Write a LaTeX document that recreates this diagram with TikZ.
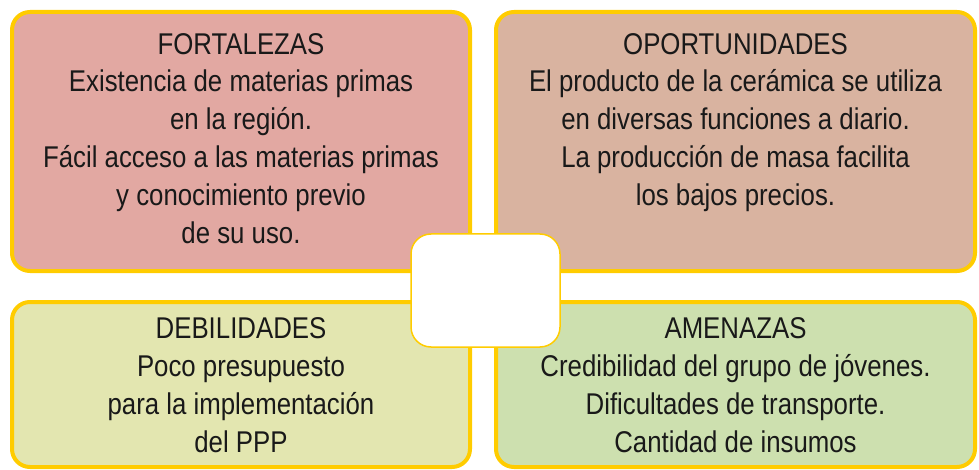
\documentclass[tikz,border=0pt]{standalone}
\usepackage{fontspec}
\setmainfont{Liberation Sans}[FakeStretch=0.86]
\usetikzlibrary{positioning}
\definecolor{fodaBorde}{HTML}{FFCC00}
\definecolor{fortFill}{HTML}{E2A8A2}
\definecolor{oporFill}{HTML}{D9B3A0}
\definecolor{debiFill}{HTML}{E3E6B0}
\definecolor{amenFill}{HTML}{CDE0AF}

\begin{document}
\begin{tikzpicture}[x=1pt, y=-1pt,
  cuadro/.style = {draw=fodaBorde, line width=4pt, rounded corners=18pt,
                   inner sep=0pt},
  centro/.style = {draw=fodaBorde, fill=white, line width=1.5pt,
                   rounded corners=20pt, inner sep=0pt,
                   minimum width=149pt, minimum height=113pt},
  texto/.style = {anchor=north, inner sep=0pt, align=center, text=black!90,
                  font=\fontsize{30}{37.8}\selectfont}]
\useasboundingbox (0,0) rectangle (979,470);
% cuadrantes
\node [cuadro, fill=fortFill, minimum width=458pt, minimum height=259pt]
  (fort) at (241,141.5) {};
\node [cuadro, fill=oporFill, minimum width=479pt, minimum height=259pt]
  (opor) at (735.5,141.5) {};
\node [cuadro, fill=debiFill, minimum width=458pt, minimum height=165pt]
  (debi) at (241,384.5) {};
\node [cuadro, fill=amenFill, minimum width=479pt, minimum height=165pt]
  (amen) at (735.5,384.5) {};
% centro
\node [centro] (nucleo) at (485.5,290.5) {};
% textos
\node [texto] (fortTxt) at (241,33) {FORTALEZAS\\Existencia de materias primas\\en la región.\\Fácil acceso a las materias primas\\y conocimiento previo\\de su uso.};
\node [texto] (oporTxt) at (735.5,33) {OPORTUNIDADES\\El producto de la cerámica se utiliza\\en diversas funciones a diario.\\La producción de masa facilita\\los bajos precios.};
\node [texto] (debiTxt) at (241,317.5) {DEBILIDADES\\Poco presupuesto\\para la implementación\\del PPP};
\node [texto] (amenTxt) at (735.5,317.5) {AMENAZAS\\Credibilidad del grupo de jóvenes.\\Dificultades de transporte.\\Cantidad de insumos};
\end{tikzpicture}
\end{document}
